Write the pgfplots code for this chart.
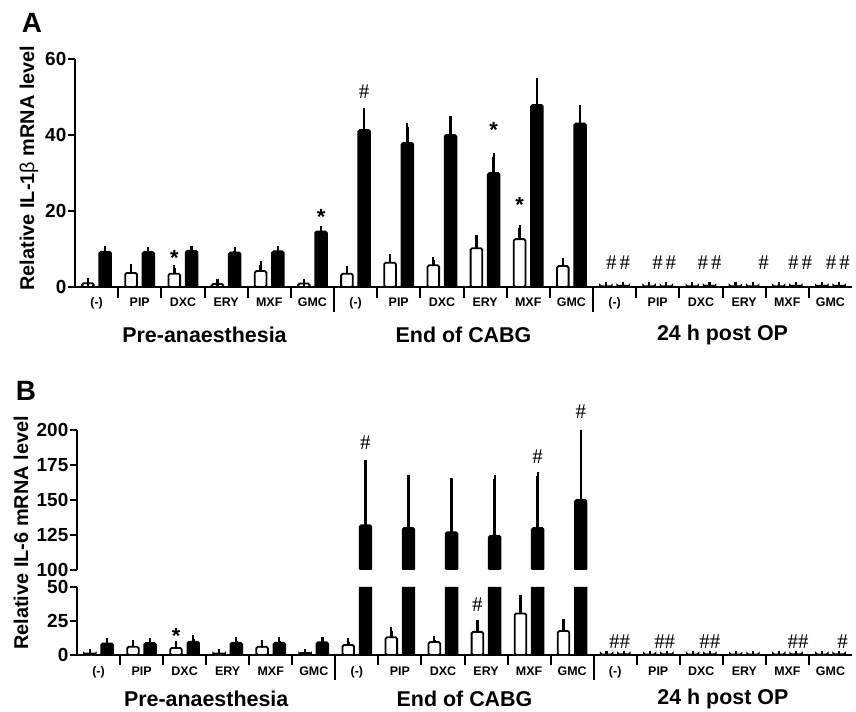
\documentclass[border=0pt]{standalone}
\usepackage{pgfplots}
\pgfplotsset{compat=1.18}
\usepackage{pgfplotstable}
\usepackage{fontspec}
\setmainfont{Liberation Sans}
\newfontfamily\serif{Liberation Serif}

% IL-1beta: category positions of the white and the black bar, mean, upper error
\pgfplotstableread{
xw    xb    w     we    b     be
0.30  0.70  1.0   0.3   9.3   0.4
1.30  1.70  3.7   1.3   9.2   0.3
2.30  2.70  3.5   1.4   9.5   0.3
3.30  3.70  0.8   0.2   9.1   0.3
4.30  4.70  4.2   1.6   9.4   0.3
5.30  5.70  0.9   0.3   14.6  0.4
6.30  6.70  3.5   1.1   41.3  4.8
7.30  7.70  6.4   1.4   37.9  4.2
8.30  8.70  5.7   1.3   40.0  4.0
9.30  9.70  10.2  2.6   30.0  4.3
10.30 10.70 12.6  2.8   47.9  6.2
11.30 11.70 5.5   1.2   43.0  3.9
12.30 12.70 0.2   0.0   0.3   0.0
13.30 13.70 0.2   0.0   0.2   0.0
14.30 14.70 0.2   0.0   0.3   0.0
15.30 15.70 0.2   0.0   0.2   0.0
16.30 16.70 0.2   0.0   0.3   0.0
17.30 17.70 0.3   0.0   0.3   0.0
}\tabA

% IL-6
\pgfplotstableread{
xw    xb    w     we    b     be
0.30  0.70  1.0   0.3   8.5   1.3
1.30  1.70  6.0   2.5   8.8   1.2
2.30  2.70  5.2   2.0   9.8   2.2
3.30  3.70  1.0   0.3   9.0   1.2
4.30  4.70  6.0   2.3   9.0   1.2
5.30  5.70  1.5   0.3   9.3   1.0
6.30  6.70  7.3   2.2   132.0 44.0
7.30  7.70  13.0  5.0   130.0 35.0
8.30  8.70  9.5   1.8   127.0 36.0
9.30  9.70  17.0  6.0   124.5 40.5
10.30 10.70 30.5  11.0  130.0 37.0
11.30 11.70 17.6  6.0   150.0 48.0
12.30 12.70 0.3   0.0   0.5   0.0
13.30 13.70 0.3   0.0   0.5   0.0
14.30 14.70 0.3   0.0   0.5   0.0
15.30 15.70 0.3   0.0   0.3   0.0
16.30 16.70 0.3   0.0   0.5   0.0
17.30 17.70 0.3   0.0   0.5   0.0
}\tabB

\pgfplotsset{
  panel/.style={
    scale only axis, xmin=0, xmax=18,
    axis line style={line width=2bp},
    tick align=outside, major tick length=7bp,
    ytick style={line width=2bp, black},
    xtick style={draw=none},
    yticklabel style={font=\bfseries\fontsize{19}{19}\selectfont, inner sep=1.5bp},
    xticklabel style={font=\bfseries\fontsize{12.5}{12.5}\selectfont},
    /pgf/number format/assume math mode=true,
    clip mode=individual,
  },
  cats/.style={
    xtick={0.5,1.5,...,17.5},
    xticklabels={{(-)},PIP,DXC,ERY,MXF,GMC,{(-)},PIP,DXC,ERY,MXF,GMC,{(-)},PIP,DXC,ERY,MXF,GMC},
  },
  wbar/.style={ybar, bar width=0.27, bar shift=0pt, draw=black, fill=white, line width=1.8bp,
    rounded corners=1.5bp,
    error bars/.cd, y dir=plus, y explicit,
    error bar style={line width=2.5bp, black, sharp corners},
    error mark=|,
    error mark options={rotate=90, black, mark size=3.8bp, line width=2.2bp}},
  bbar/.style={ybar, bar width=0.27, bar shift=0pt, draw=black, fill=black, line width=1.8bp,
    rounded corners=1.5bp,
    error bars/.cd, y dir=plus, y explicit,
    error bar style={line width=2.5bp, black, sharp corners},
    error mark=|,
    error mark options={rotate=90, black, mark size=3.8bp, line width=2.2bp}},
}
\tikzset{
  star/.style={font=\bfseries\fontsize{22}{22}\selectfont, inner sep=0pt, yshift=-4.5bp},
  hash/.style={font=\serif\fontsize{21}{21}\selectfont, inner sep=0pt},
  grp/.style={font=\bfseries\fontsize{21.5}{21.5}\selectfont, inner sep=0pt},
}

\begin{document}
\begin{tikzpicture}
\path[use as bounding box] (0bp,0bp) rectangle (856bp,712bp);

% ---------- panel A ----------
\node[font=\bfseries\fontsize{28}{28}\selectfont] at (32bp,689bp) {A};
\node[rotate=90, font=\bfseries\fontsize{20}{20}\selectfont] at (29bp,544bp)
  {Relative IL-1{\mdseries β} mRNA level};

\begin{axis}[panel, cats,
  at={(75bp,425bp)}, anchor=south west, width=777bp, height=228bp,
  ymin=0, ymax=60, ytick={0,20,40,60},
  axis x line*=bottom, axis y line*=left,
  xticklabel style={yshift=0bp},
]
\addplot[wbar] table[x=xw, y=w, y error=we] \tabA;
\addplot[bbar] table[x=xb, y=b, y error=be] \tabA;

\pgfplotsinvokeforeach{1,2,3,4,5,7,8,9,10,11,13,14,15,16,17}{
  \draw[line width=2bp] (axis cs:#1,0) -- ++(0bp,-11bp);
}
\draw[line width=2bp] (axis cs:6,0) -- ++(0bp,-25bp);
\draw[line width=2bp] (axis cs:12,0) -- ++(0bp,-25bp);

\node[grp] at (axis cs:3,0) [yshift=-48bp] {Pre-anaesthesia};
\node[grp] at (axis cs:9,0) [yshift=-48bp] {End of CABG};
\node[grp] at (axis cs:15,0) [yshift=-48bp] {24 h post OP};

\node[star] at (axis cs:2.30,8.9) {*};
\node[star] at (axis cs:5.70,19.7) {*};
\node[hash] at (axis cs:6.70,51.3) {\#};
\node[star] at (axis cs:9.70,42.6) {*};
\node[star] at (axis cs:10.30,22.9) {*};
\node[hash] at (axis cs:12.58,6.3) {\#\hspace{3bp}\#};
\node[hash] at (axis cs:13.65,6.3) {\#\hspace{3bp}\#};
\node[hash] at (axis cs:14.70,6.3) {\#\hspace{3bp}\#};
\node[hash] at (axis cs:15.95,6.3) {\#};
\node[hash] at (axis cs:16.80,6.3) {\#\hspace{3bp}\#};
\node[hash] at (axis cs:17.67,6.3) {\#\hspace{3bp}\#};
\end{axis}

% ---------- panel B ----------
\node[font=\bfseries\fontsize{28}{28}\selectfont] at (26bp,321bp) {B};
\node[rotate=90, font=\bfseries\fontsize{20}{20}\selectfont] at (21bp,179bp)
  {Relative IL-6 mRNA level};

% upper part of the broken axis
\begin{axis}[panel,
  at={(77bp,142bp)}, anchor=south west, width=775bp, height=140bp,
  ymin=100, ymax=200, ytick={100,125,150,175,200},
  axis y line*=left, axis x line=none, xtick=\empty,
]
\addplot[restrict y to domain=100:300, bbar] table[x=xb, y=b, y error=be] \tabB;
\node[hash] at (axis cs:6.70,190.7) {\#};
\node[hash] at (axis cs:10.70,180.7) {\#};
\node[hash] at (axis cs:11.70,212.9) {\#};
\end{axis}

% lower part of the broken axis
\begin{axis}[panel, cats,
  at={(77bp,57bp)}, anchor=south west, width=775bp, height=68bp,
  ymin=0, ymax=50, ytick={0,25,50},
  axis x line*=bottom, axis y line*=left,
  xticklabel style={yshift=-1bp},
]
\addplot[wbar] table[x=xw, y=w, y error=we] \tabB;
\addplot[bbar] table[x=xb, y=b, y error=be] \tabB;

\pgfplotsinvokeforeach{1,2,3,4,5,7,8,9,10,11,13,14,15,16,17}{
  \draw[line width=2bp] (axis cs:#1,0) -- ++(0bp,-10bp);
}
\draw[line width=2bp] (axis cs:6,0) -- ++(0bp,-25bp);
\draw[line width=2bp] (axis cs:12,0) -- ++(0bp,-25bp);

\node[grp] at (axis cs:3,0) [yshift=-44bp] {Pre-anaesthesia};
\node[grp] at (axis cs:9,0) [yshift=-44bp] {End of CABG};
\node[grp] at (axis cs:15,0) [yshift=-44bp] {24 h post OP};

\node[star] at (axis cs:2.30,17) {*};
\node[hash] at (axis cs:9.30,36.8) {\#};
\node[hash] at (axis cs:12.60,9.6) {\#\#};
\node[hash] at (axis cs:13.65,9.6) {\#\#};
\node[hash] at (axis cs:14.70,9.6) {\#\#};
\node[hash] at (axis cs:16.75,9.6) {\#\#};
\node[hash] at (axis cs:17.78,9.6) {\#};
\end{axis}
\end{tikzpicture}
\end{document}
